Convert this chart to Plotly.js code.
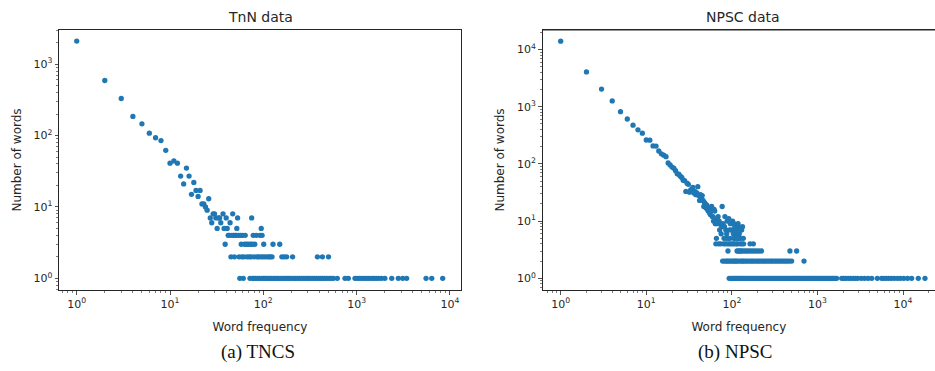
<!DOCTYPE html>
<html>
<head>
<meta charset="utf-8">
<script src="https://cdn.plot.ly/plotly-3.0.1.min.js"></script>
<style>html,body{margin:0;padding:0;background:#fff;}#chart{width:935px;height:371px;}</style>
</head>
<body>
<div id="chart"></div>
<script>
// ---------- TnN data (word frequency -> number of words) ----------
const tnnHeadFreq  = [1,2,3,4,5,6,7,8,9,10,11,12,13,14,15,16,17,18,19,20,21,22,23,24,25,26,27,28,29,30,31,32,33,34,35,37,38,40,41,44,47,52,53,75,95];
const tnnHeadCount = [2100,590,330,185,146,108,93,85,62,41,44,41,27,21,35,27,15,22,17,14,17,11,11,10,9,13,7,6,8,8,7,5,7,7,6,8,5,7,5,6,8,5,7,7,5];
const tnnFreqCount4 = [42,43,46,48,50,51,54,57,60,64,78,84,92,97];
const tnnFreqCount3 = [39,58,63,66,69,73,76,81,101,127,150];
const tnnFreqCount2 = [45,49,55,59,62,67,71,74,80,86,89,94,99,104,110,115,119,124,158,167,178,206,380,430,500];
const tnnFreqCount1 = [56,61,72,77,79,83,87,91,96,100,103,107,112,117,122,128,133,139,145,152,160,168,175,183,190,198,210,221,233,245,258,272,287,301,316,333,351,369,388,410,431,455,480,508,533,563,621,751,815,961,1020,1075,1140,1210,1280,1350,1440,1530,1620,1730,1850,2010,2380,2800,3120,3440,5550,6390,8370];

// ---------- NPSC data ----------
const npscHeadFreq  = [1,2,3,4,5,6,7,8,9,10,11,12,13,14,15,16,17,18,19,20,21,22,23,24,25,26,27,28,29,30,31,32,33,34,35,36,37,38,39,40,41,42,43,44,45,46,47,48,49,50,51,52,53,54,55,56,57,58,59,60,61,62,63,64,65,66,67,68,69,70,71,72,73,74,75,76,77];
const npscHeadCount = [14000,4050,2030,1260,820,610,475,395,345,262,260,206,205,168,150,142,134,104,96,88,84,76,67,66,61,58,52,51,33,46,44,32,35,36,39,31,33,29,31,40,28,23,29,27,28,23,18,21,20,17,19,16,15,17,14,13,15,18,12,12,10,16,15,9,4,5,11,9,12,4,10,7,9,4,6,8,18];
const npscMidFreq  = [79,82,83,85,87,88,92,94,96,100,102,104,106,108,111,114,118,120,122,126,130,133];
const npscMidCount = [9,8,12,7,6,10,11,7,9,7,10,6,9,8,7,6,9,8,6,7,7,8];
const npscFreqCount5 = [81,86,91,95,105,110,116,121,127,136];
const npscFreqCount4 = [80,84,89,93,98,103,107,113,117,125,131,137,163,178];
const npscFreqCount3 = [90,115,119,124,128,135,143,151,160,170,181,193,207,222,477,571];
const npscFreqCount2 = [78,82,86,89,93,97,101,105,109,112,117,123,129,134,139,146,153,161,169,176,185,194,203,213,224,236,247,260,273,287,300,316,331,348,366,384,404,424,446,470,499,696];
const npscFreqCount1 = [93,97,101,105,109,113,117,121,126,130,135,140,146,151,157,163,170,176,183,190,197,205,213,221,230,239,248,258,268,278,289,300,312,324,337,350,363,377,392,407,423,440,457,474,493,512,532,552,574,596,619,643,668,694,721,749,778,808,840,872,906,942,978,1016,1055,1097,1139,1184,1230,1277,1327,1379,1433,1488,1546,1606,1675,1920,2020,2130,2280,2430,2600,2780,2950,3250,3550,3900,4300,5000,5620,5950,6350,6800,7300,7900,8600,9300,10200,11300,12600,15060,18030];

// ---------- tick labels ----------
const tnnXTickVals  = [1,10,100,1000,10000];
const tnnXTickText  = ['10<sup>0</sup>','10<sup>1</sup>','10<sup>2</sup>','10<sup>3</sup>','10<sup>4</sup>'];
const tnnYTickVals  = [1,10,100,1000];
const tnnYTickText  = ['10<sup>0</sup>','10<sup>1</sup>','10<sup>2</sup>','10<sup>3</sup>'];
const npscXTickVals = [1,10,100,1000,10000];
const npscXTickText = ['10<sup>0</sup>','10<sup>1</sup>','10<sup>2</sup>','10<sup>3</sup>','10<sup>4</sup>'];
const npscYTickVals = [1,10,100,1000,10000];
const npscYTickText = ['10<sup>0</sup>','10<sup>1</sup>','10<sup>2</sup>','10<sup>3</sup>','10<sup>4</sup>'];

const titles = ['TnN data','NPSC data'];
const captions = ['(a) TNCS','(b) NPSC'];
const xLabel = 'Word frequency';
const yLabel = 'Number of words';

function withLevels(headX, headY, levels){
  const x = headX.slice(), y = headY.slice();
  levels.forEach(([count, arr]) => arr.forEach(v => { x.push(v); y.push(count); }));
  return {x, y};
}
const tnn = withLevels(tnnHeadFreq, tnnHeadCount, [[4,tnnFreqCount4],[3,tnnFreqCount3],[2,tnnFreqCount2],[1,tnnFreqCount1]]);
const npscA = withLevels(npscHeadFreq.concat(npscMidFreq), npscHeadCount.concat(npscMidCount),
  [[5,npscFreqCount5],[4,npscFreqCount4],[3,npscFreqCount3],[2,npscFreqCount2],[1,npscFreqCount1]]);

function minorTicks(lo, hi){
  const out = [];
  for (let k = -1; k <= 5; k++) for (let m = 2; m <= 9; m++) {
    const v = m * Math.pow(10, k);
    if (v > lo && v < hi) out.push(v);
  }
  return out;
}

const BLUE = '#1f77b4';
const FONT = 'DejaVu Sans, sans-serif';
const INK = '#262626';
const marker = {color: BLUE, size: 5.3, line: {width: 0}};

const traces = [
  {type:'scatter', mode:'markers', x: tnn.x, y: tnn.y, marker, xaxis:'x', yaxis:'y', hoverinfo:'skip', showlegend:false},
  {type:'scatter', mode:'markers', x: npscA.x, y: npscA.y, marker, xaxis:'x2', yaxis:'y2', hoverinfo:'skip', showlegend:false}
];

function axis(range, tv, tt, extra){
  return Object.assign({
    type:'log', range, showline:true, linecolor:INK, linewidth:1, mirror:true,
    ticks:'outside', ticklen:3.5, tickwidth:0.8, tickcolor:INK,
    showgrid:false, zeroline:false,
    tickmode:'array', tickvals:tv, ticktext:tt,
    tickfont:{family:FONT, size:11, color:INK},
    minor:{ticks:'outside', ticklen:2, tickwidth:0.6, tickcolor:INK, tickmode:'array',
           tickvals:minorTicks(Math.pow(10, range[0]), Math.pow(10, range[1])), showgrid:false},
    automargin:false, fixedrange:true
  }, extra);
}

const W = 935, H = 371;
const yDom = [1 - 290/H, 1 - 30/H];
const labFont = {family:FONT, size:12, color:INK};

const layout = {
  width: W, height: H,
  margin: {l:0, r:0, t:0, b:0},
  paper_bgcolor:'#fff', plot_bgcolor:'#fff',
  font: {family: FONT, color: INK},
  showlegend:false,
  xaxis: axis([-0.19, 4.119], tnnXTickVals, tnnXTickText, {domain:[59/W, 461/W], anchor:'y',
    title:{text:xLabel, font:labFont, standoff:12}}),
  yaxis: axis([-0.164, 3.478], tnnYTickVals, tnnYTickText, {domain:yDom, anchor:'x',
    title:{text:yLabel, font:labFont, standoff:9}}),
  xaxis2: axis([-0.21, 4.373], npscXTickVals, npscXTickText, {domain:[542.7/W, 1], anchor:'y2',
    title:{text:xLabel, font:labFont, standoff:12}}),
  yaxis2: axis([-0.2045, 4.341], npscYTickVals, npscYTickText, {domain:yDom, anchor:'x2', mirror:false,
    title:{text:yLabel, font:labFont, standoff:9}}),
  shapes: [
    {type:'line', xref:'paper', yref:'paper', x0:542.7/W, x1:1, y0:yDom[1], y1:yDom[1], line:{color:INK, width:1}}
  ],
  annotations: [
    {text:titles[0], xref:'paper', yref:'paper', x:260/W, y:1-17/H, xanchor:'center', yanchor:'middle', showarrow:false, font:{family:FONT, size:14, color:INK}},
    {text:titles[1], xref:'paper', yref:'paper', x:743/W, y:1-17/H, xanchor:'center', yanchor:'middle', showarrow:false, font:{family:FONT, size:14, color:INK}},
    {text:captions[0], xref:'paper', yref:'paper', x:258/W, y:1-352/H, xanchor:'center', yanchor:'middle', showarrow:false, font:{family:'Liberation Serif, serif', size:19, color:'#111'}},
    {text:captions[1], xref:'paper', yref:'paper', x:735/W, y:1-352/H, xanchor:'center', yanchor:'middle', showarrow:false, font:{family:'Liberation Serif, serif', size:19, color:'#111'}}
  ]
};

Plotly.newPlot('chart', traces, layout, {displayModeBar:false, staticPlot:true});
</script>
</body>
</html>
